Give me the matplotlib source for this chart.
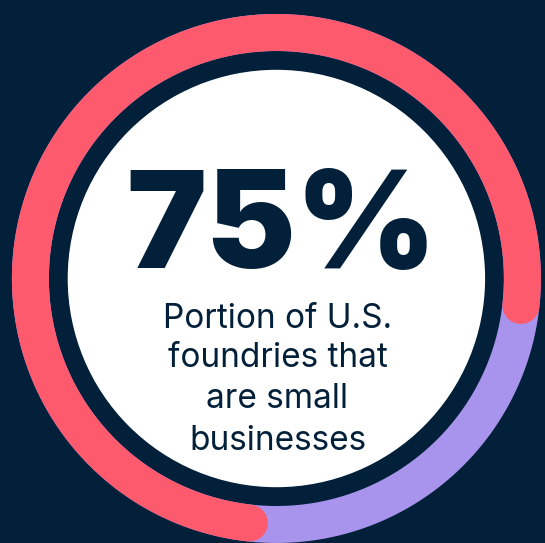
import matplotlib
matplotlib.use("Agg")
import matplotlib.pyplot as plt
import numpy as np

# data
share_labels = ["Small businesses", "Other foundries"]
share_values = [75, 25]
headline = "75%"
caption_lines = ["Portion of U.S.", "foundries that", "are small", "businesses"]

NAVY = "#03203a"
RED = "#fe5a6e"
LAVENDER = "#a894ec"
WHITE = "#ffffff"

W, H = 545, 543
fig = plt.figure(figsize=(W / 100, H / 100), dpi=100, facecolor=NAVY)
ax = fig.add_axes([0, 0, 1, 1])
ax.set_xlim(0, W)
ax.set_ylim(0, H)
ax.set_aspect("equal")
ax.axis("off")
ax.set_facecolor(NAVY)

cx, cy = 276.4, H - 278.5
ring_r = 246.0
ring_w = 37.0  # px
white_r = 208.0
px2pt = 72 / 100

# full ring (remaining share) underneath
t = np.linspace(0, 2 * np.pi, 721)
ax.plot(cx + ring_r * np.cos(t), cy + ring_r * np.sin(t),
        color=LAVENDER, lw=ring_w * px2pt, solid_capstyle="butt", zorder=1)

# highlighted share, clockwise from just left of the bottom
start_deg = -96.3
span = 360 * share_values[0] / sum(share_values)
theta = np.radians(start_deg - np.linspace(0, span, 500))
ax.plot(cx + ring_r * np.cos(theta), cy + ring_r * np.sin(theta),
        color=RED, lw=ring_w * px2pt, solid_capstyle="round", zorder=2)

ax.add_patch(plt.Circle((cx, cy), white_r, color=WHITE, zorder=3))

ax.text(282, H - 268.3, headline, ha="center", va="baseline",
        fontsize=97, fontweight="black", family="Inter", color=NAVY, zorder=4)

baselines = [327.7, 367.3, 408.3, 450.0]
for line, b in zip(caption_lines, baselines):
    ax.text(277.5, H - b, line, ha="center", va="baseline", fontsize=24,
            family="Inter", color=NAVY, zorder=4)

fig.savefig("out.png", dpi=100, facecolor=NAVY)
